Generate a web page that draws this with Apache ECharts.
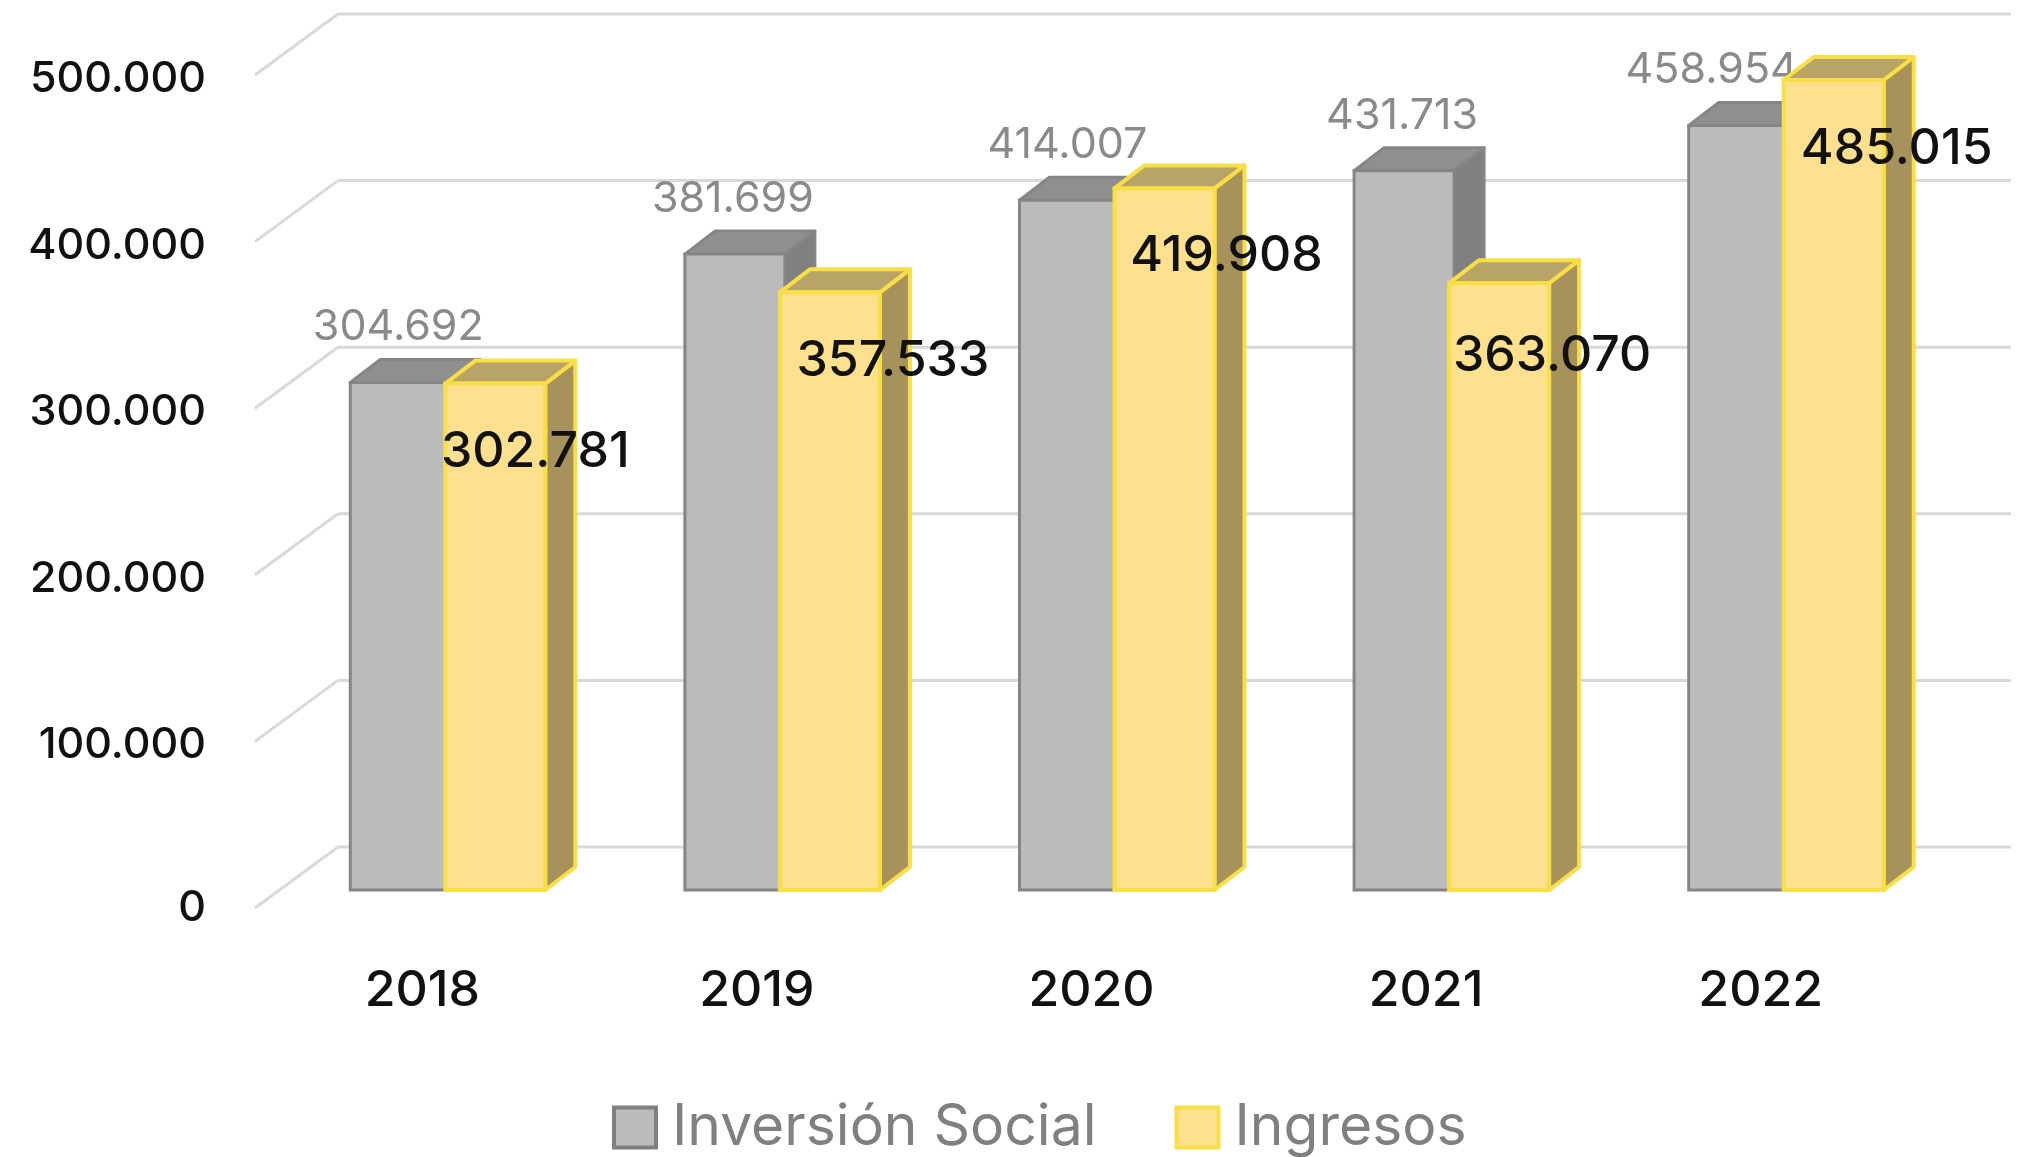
<!DOCTYPE html>
<html><head><meta charset="utf-8">
<style>html,body{margin:0;padding:0;background:#fff}#c{width:2033px;height:1157px}</style>
<script src="https://cdn.jsdelivr.net/npm/echarts@6/dist/echarts.min.js"></script>
</head><body><div id="c"></div>
<script>
const categories = ['2018','2019','2020','2021','2022'];
const inversionSocial = [304692,381699,414007,431713,458954];
const ingresos = [302781,357533,419908,363070,485015];
const ticks = [0,100000,200000,300000,400000,500000];
const labelFont = 'Inter, "Noto Sans", sans-serif';

const fmt = v => String(v).replace(/\B(?=(\d{3})+$)/g,'.');
const wallDx = 83, wallDy = -61;   // depth of the chart floor
const barDx = 26, barDy = -18;     // where bars sit on the floor
const sideDx = 30, sideDy = -23;   // depth of a bar
const grayNudge = [0,0,0,0,-25];
const yellowNudge = [41,64,63,54,64];
const yellowDrop = [68,69,68,73,69];

const box = (left,right,top,bottom,c,text) => ({
  type:'group', children:[
    {type:'polygon',shape:{points:[[right,top],[right+sideDx,top+sideDy],[right+sideDx,bottom+sideDy],[right,bottom]]},
     style:{fill:c.side,stroke:c.edge,lineWidth:c.lw,lineJoin:'round'}},
    {type:'polygon',shape:{points:[[left,top],[left+sideDx,top+sideDy],[right+sideDx,top+sideDy],[right,top]]},
     style:{fill:c.top,stroke:c.edge,lineWidth:c.lw,lineJoin:'round'}},
    {type:'rect',shape:{x:left,y:top,width:right-left,height:bottom-top},
     style:{fill:c.front,stroke:c.edge,lineWidth:c.lw}},
    text
  ]});

const grayStyle = {front:'#BBBBBB',top:'#8F8F8F',side:'#808080',edge:'#858585',lw:3};
const yellowStyle = {front:'#FEE08E',top:'#B9A467',side:'#A8925C',edge:'#F7DF45',lw:4};

function renderGrid(params,api){
  const cs = params.coordSys;
  const y = api.coord([0,api.value(1)])[1];
  const ls = {stroke:'#D9D9D9',lineWidth:3,fill:null};
  return {type:'group',silent:true,children:[
    {type:'line',shape:{x1:cs.x,y1:y,x2:cs.x+wallDx,y2:y+wallDy},style:ls},
    {type:'line',shape:{x1:cs.x+wallDx,y1:y+wallDy,x2:cs.x+cs.width+wallDx,y2:y+wallDy},style:ls}
  ]};
}
function renderGray(params,api){
  const i = api.value(0), p = api.coord([i,api.value(1)]), z = api.coord([i,0]);
  const c = p[0]+barDx, top = p[1]+barDy, bot = z[1]+barDy;
  return box(c-98,c+2,top,bot,grayStyle,{type:'text',style:{
    text:fmt(api.value(1)),x:c-50+grayNudge[i],y:top-55,align:'center',verticalAlign:'middle',
    font:'400 43px '+labelFont,fill:'#8A8A8A'}});
}
function renderYellow(params,api){
  const i = api.value(0), p = api.coord([i,api.value(1)]), z = api.coord([i,0]);
  const c = p[0]+barDx, top = p[1]+barDy-2, bot = z[1]+barDy;
  return box(c-3,c+97,top,bot,yellowStyle,{type:'text',z2:10,style:{
    text:fmt(api.value(1)),x:c+46+yellowNudge[i],y:top+yellowDrop[i],align:'center',verticalAlign:'middle',
    font:'500 50px '+labelFont,fill:'#111111'}});
}

const yTickStyle = {fontFamily:labelFont,fontSize:43,fontWeight:500,color:'#111111'};
const chart = echarts.init(document.getElementById('c'),null,{renderer:'canvas'});
chart.setOption({
  animation:false,
  backgroundColor:'#ffffff',
  grid:{left:255,top:75,width:1673,height:833,containLabel:false},
  xAxis:{type:'category',data:categories,axisLine:{show:false},axisTick:{show:false},
    axisLabel:{fontFamily:labelFont,fontSize:50,fontWeight:500,color:'#111111',margin:58}},
  yAxis:{type:'value',min:0,max:500000,interval:100000,splitLine:{show:false},axisLine:{show:false},axisTick:{show:false},
    axisLabel:Object.assign({},yTickStyle,{margin:49,formatter:v=>v===0?'{z|0}':'{a|'+fmt(v)+'}',
      rich:{a:Object.assign({},yTickStyle,{padding:[8,0,0,0]}),z:yTickStyle}})},
  legend:{left:612,top:1099,padding:0,itemWidth:42,itemHeight:40,itemGap:78,icon:'rect',
    data:[{name:'Inversión Social',itemStyle:{color:'#BBBBBB',borderColor:'#7F7F7F',borderWidth:4}},
          {name:'Ingresos',itemStyle:{color:'#FEE08E',borderColor:'#F7DF45',borderWidth:4}}],
    textStyle:{fontFamily:labelFont,fontSize:57,color:'#808080',padding:[0,0,0,11]}},
  series:[
    {type:'custom',name:'grid',z:1,silent:true,renderItem:renderGrid,encode:{x:0,y:1},data:ticks.map(t=>[0,t])},
    {type:'custom',name:'Inversión Social',z:2,renderItem:renderGray,encode:{x:0,y:1},data:inversionSocial.map((v,i)=>[i,v])},
    {type:'custom',name:'Ingresos',z:3,renderItem:renderYellow,encode:{x:0,y:1},data:ingresos.map((v,i)=>[i,v])}
  ]
});
</script></body></html>
